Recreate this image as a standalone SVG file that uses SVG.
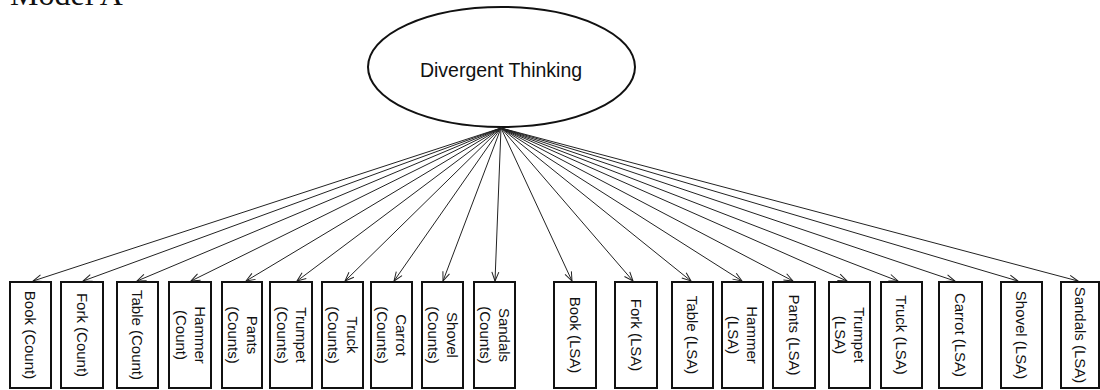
<svg xmlns="http://www.w3.org/2000/svg" width="1100" height="390" viewBox="0 0 1100 390">
<style>
.box{fill:#fff;stroke:#111;stroke-width:2}
.lbl{font-family:"Liberation Sans",Arial,sans-serif;font-size:15px;fill:#111;text-anchor:middle}
.conn line{stroke:#222;stroke-width:1;fill:none;marker-end:url(#arr)}
</style>
<defs>
<marker id="arr" markerUnits="userSpaceOnUse" markerWidth="12" markerHeight="10" viewBox="-1 -5 12 10" refX="9" refY="0" orient="auto">
<path d="M0,-3.5 L9,0 L0,3.5" fill="none" stroke="#222" stroke-width="1"/>
</marker>
</defs>
<rect width="1100" height="390" fill="#fff"/>
<text x="10" y="5" font-family="'Liberation Serif','Times New Roman',serif" font-size="32" fill="#111">Model A</text>
<g id="latent">
<ellipse cx="501.5" cy="67" rx="133.5" ry="60" fill="#fff" stroke="#111" stroke-width="2"/>
<text x="501" y="76.5" font-family="'Liberation Sans',Arial,sans-serif" font-size="19.5" fill="#111" text-anchor="middle">Divergent Thinking</text>
</g>
<g id="connectors" class="conn">
<line x1="501" y1="128" x2="33" y2="281"/>
<line x1="501" y1="128" x2="83" y2="281"/>
<line x1="501" y1="128" x2="137" y2="281"/>
<line x1="501" y1="128" x2="191" y2="281"/>
<line x1="501" y1="128" x2="246" y2="281"/>
<line x1="501" y1="128" x2="297" y2="281"/>
<line x1="501" y1="128" x2="345" y2="281"/>
<line x1="501" y1="128" x2="394" y2="281"/>
<line x1="501" y1="128" x2="443" y2="281"/>
<line x1="501" y1="128" x2="495" y2="281"/>
<line x1="501" y1="128" x2="572" y2="281"/>
<line x1="501" y1="128" x2="633" y2="281"/>
<line x1="501" y1="128" x2="691" y2="281"/>
<line x1="501" y1="128" x2="742" y2="281"/>
<line x1="501" y1="128" x2="793" y2="281"/>
<line x1="501" y1="128" x2="847" y2="281"/>
<line x1="501" y1="128" x2="898" y2="281"/>
<line x1="501" y1="128" x2="955" y2="281"/>
<line x1="501" y1="128" x2="1018" y2="281"/>
<line x1="501" y1="128" x2="1078" y2="281"/>
</g>
<g id="n1"><rect class="box" x="10" y="282" width="41" height="106"/><text class="lbl" transform="translate(30.5,335) rotate(90)" y="5.5">Book (Count)</text></g>
<g id="n2"><rect class="box" x="61" y="282" width="42" height="106"/><text class="lbl" transform="translate(82,335) rotate(90)" y="5.5">Fork (Count)</text></g>
<g id="n3"><rect class="box" x="117" y="282" width="41" height="106"/><text class="lbl" transform="translate(137.5,335) rotate(90)" y="5.5">Table (Count)</text></g>
<g id="n4"><rect class="box" x="169" y="282" width="42" height="106"/><text class="lbl" transform="translate(190,335) rotate(90)"><tspan x="0" y="-4.5">Hammer</tspan><tspan x="0" y="14.5">(Count)</tspan></text></g>
<g id="n5"><rect class="box" x="222" y="282" width="40" height="106"/><text class="lbl" transform="translate(242,335) rotate(90)"><tspan x="0" y="-4.5">Pants</tspan><tspan x="0" y="14.5">(Counts)</tspan></text></g>
<g id="n6"><rect class="box" x="270" y="282" width="42" height="106"/><text class="lbl" transform="translate(291,335) rotate(90)"><tspan x="0" y="-4.5">Trumpet</tspan><tspan x="0" y="14.5">(Counts)</tspan></text></g>
<g id="n7"><rect class="box" x="322" y="282" width="41" height="106"/><text class="lbl" transform="translate(342.5,335) rotate(90)"><tspan x="0" y="-4.5">Truck</tspan><tspan x="0" y="14.5">(Counts)</tspan></text></g>
<g id="n8"><rect class="box" x="371" y="282" width="41" height="106"/><text class="lbl" transform="translate(391.5,335) rotate(90)"><tspan x="0" y="-4.5">Carrot</tspan><tspan x="0" y="14.5">(Counts)</tspan></text></g>
<g id="n9"><rect class="box" x="422" y="282" width="41" height="106"/><text class="lbl" transform="translate(442.5,335) rotate(90)"><tspan x="0" y="-4.5">Shovel</tspan><tspan x="0" y="14.5">(Counts)</tspan></text></g>
<g id="n10"><rect class="box" x="474" y="282" width="41" height="106"/><text class="lbl" transform="translate(494.5,335) rotate(90)"><tspan x="0" y="-4.5">Sandals</tspan><tspan x="0" y="14.5">(Counts)</tspan></text></g>
<g id="n11"><rect class="box" x="554" y="282" width="42" height="106"/><text class="lbl" transform="translate(575,335) rotate(90)" y="5.5">Book (LSA)</text></g>
<g id="n12"><rect class="box" x="615" y="282" width="42" height="106"/><text class="lbl" transform="translate(636,335) rotate(90)" y="5.5">Fork (LSA)</text></g>
<g id="n13"><rect class="box" x="672" y="282" width="41" height="106"/><text class="lbl" transform="translate(692.5,335) rotate(90)" y="5.5">Table (LSA)</text></g>
<g id="n14"><rect class="box" x="722" y="282" width="41" height="106"/><text class="lbl" transform="translate(742.5,335) rotate(90)"><tspan x="0" y="-4.5">Hammer</tspan><tspan x="0" y="14.5">(LSA)</tspan></text></g>
<g id="n15"><rect class="box" x="773" y="282" width="42" height="106"/><text class="lbl" transform="translate(794,335) rotate(90)" y="5.5">Pants (LSA)</text></g>
<g id="n16"><rect class="box" x="829" y="282" width="41" height="106"/><text class="lbl" transform="translate(849.5,335) rotate(90)"><tspan x="0" y="-4.5">Trumpet</tspan><tspan x="0" y="14.5">(LSA)</tspan></text></g>
<g id="n17"><rect class="box" x="881" y="282" width="41" height="106"/><text class="lbl" transform="translate(901.5,335) rotate(90)" y="5.5">Truck (LSA)</text></g>
<g id="n18"><rect class="box" x="939" y="282" width="43" height="106"/><text class="lbl" transform="translate(960.5,335) rotate(90)" y="5.5">Carrot (LSA)</text></g>
<g id="n19"><rect class="box" x="1001" y="282" width="41" height="106"/><text class="lbl" transform="translate(1021.5,335) rotate(90)" y="5.5">Shovel (LSA)</text></g>
<g id="n20"><rect class="box" x="1061" y="282" width="38" height="106"/><text class="lbl" transform="translate(1080,335) rotate(90)" y="5.5">Sandals (LSA)</text></g>
</svg>
